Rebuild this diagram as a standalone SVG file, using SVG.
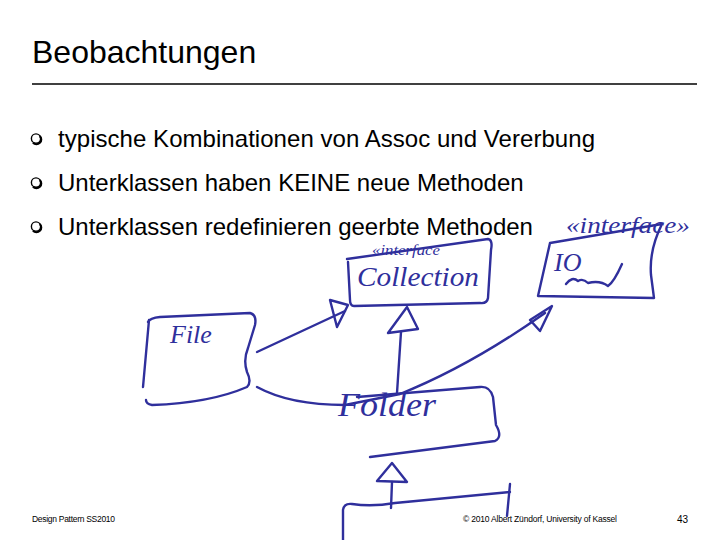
<svg xmlns="http://www.w3.org/2000/svg" width="720" height="540" viewBox="0 0 720 540">
<style>
.t{font-family:"Liberation Sans",Arial,sans-serif;fill:#000}
.ink{fill:none;stroke:#2f2f9c;stroke-width:2.4;stroke-linecap:round;stroke-linejoin:round}
.hw{font-family:"Liberation Serif","DejaVu Serif",serif;font-style:italic;fill:#2f2f9c}
.bul{fill:none;stroke:#000;stroke-width:1.4}
</style>
<rect width="720" height="540" fill="#fff"/>
<g id="title">
<text class="t" x="32" y="63" font-size="32">Beobachtungen</text>
<line x1="32" y1="84" x2="697" y2="84" stroke="#000" stroke-width="1.3"/>
</g>
<g id="bullets">
<circle class="bul" cx="36" cy="138.5" r="4.6"/><path d="M39.8 136 A4.6 4.6 0 0 1 33 142.8" fill="none" stroke="#000" stroke-width="2.2"/>
<text class="t" x="58" y="147" font-size="24" textLength="537">typische Kombinationen von Assoc und Vererbung</text>
<circle class="bul" cx="36" cy="182.5" r="4.6"/><path d="M39.8 180 A4.6 4.6 0 0 1 33 186.8" fill="none" stroke="#000" stroke-width="2.2"/>
<text class="t" x="58" y="191" font-size="24">Unterklassen haben KEINE neue Methoden</text>
<circle class="bul" cx="36" cy="226.5" r="4.6"/><path d="M39.8 224 A4.6 4.6 0 0 1 33 230.8" fill="none" stroke="#000" stroke-width="2.2"/>
<text class="t" x="58" y="235" font-size="24">Unterklassen redefinieren geerbte Methoden</text>
</g>
<g id="collection">
<path class="ink" d="M347 259 L488 239 Q493 240 491 250 L488 298 Q487 304 480 303 L354 306 Q350 306 350 300 L348 262"/>
<text class="hw" x="357" y="286" font-size="28" textLength="122" lengthAdjust="spacingAndGlyphs">Collection</text>
<text class="hw" x="372" y="255" font-size="15" textLength="68" lengthAdjust="spacingAndGlyphs">«interface</text>
</g>
<g id="io">
<path class="ink" d="M550 243 L662 224 Q649 250 651 275 L654 298 L538 296 L550 243"/>
<text class="hw" x="554" y="271" font-size="26">IO</text>
<path class="ink" d="M566 284 Q572 276 578 281 Q583 278 588 283 Q600 280 608 286 Q614 282 622 264"/>
<text class="hw" x="566" y="233" font-size="24" textLength="124" lengthAdjust="spacingAndGlyphs">«interface»</text>
</g>
<g id="file">
<path class="ink" d="M148 322 Q150 318 160 317 L250 313 Q257 315 255 325 L248 348 Q243 360 247 372 Q252 382 247 387 Q210 403 152 405 Q146 404 146 400"/>
<path class="ink" d="M149 320 L143 387"/>
<text class="hw" x="170" y="343" font-size="26">File</text>
</g>
<g id="folder">
<path class="ink" d="M357 397 L480 387 Q490 386 493 397 L496 425 Q503 437 495 441 L370 457"/>
<text class="hw" x="338" y="416" font-size="34" textLength="98" lengthAdjust="spacingAndGlyphs">Folder</text>
</g>
<g id="sub">
<path class="ink" d="M343 540 L343 510 Q344 503 352 504 Q372 507 395 503 L510 492"/>
<path class="ink" d="M510 484 L507 516"/>
</g>
<g id="connectors">
<path class="ink" d="M257 352 L345 311"/>
<path class="ink" d="M330 300 L337 327 L348 305 Z"/>
<path class="ink" d="M257 387 Q290 405 345 405 L400 394 Q470 366 545 313"/>
<path class="ink" d="M530 320 L540 331 L552 306 Z"/>
<path class="ink" d="M397 393 L401 332"/>
<path class="ink" d="M407 307 L388 333 L418 329 Z"/>
<path class="ink" d="M391 508 L392 482"/>
<path class="ink" d="M392 463 L377 481 L407 482 Z"/>
</g>
<g id="footer">
<text class="t" x="32" y="522" font-size="8.5" textLength="83">Design Pattern SS2010</text>
<text class="t" x="463" y="522" font-size="8.5" textLength="154">© 2010 Albert Zündorf, University of Kassel</text>
<text class="t" x="677" y="523" font-size="10">43</text>
</g>
</svg>
